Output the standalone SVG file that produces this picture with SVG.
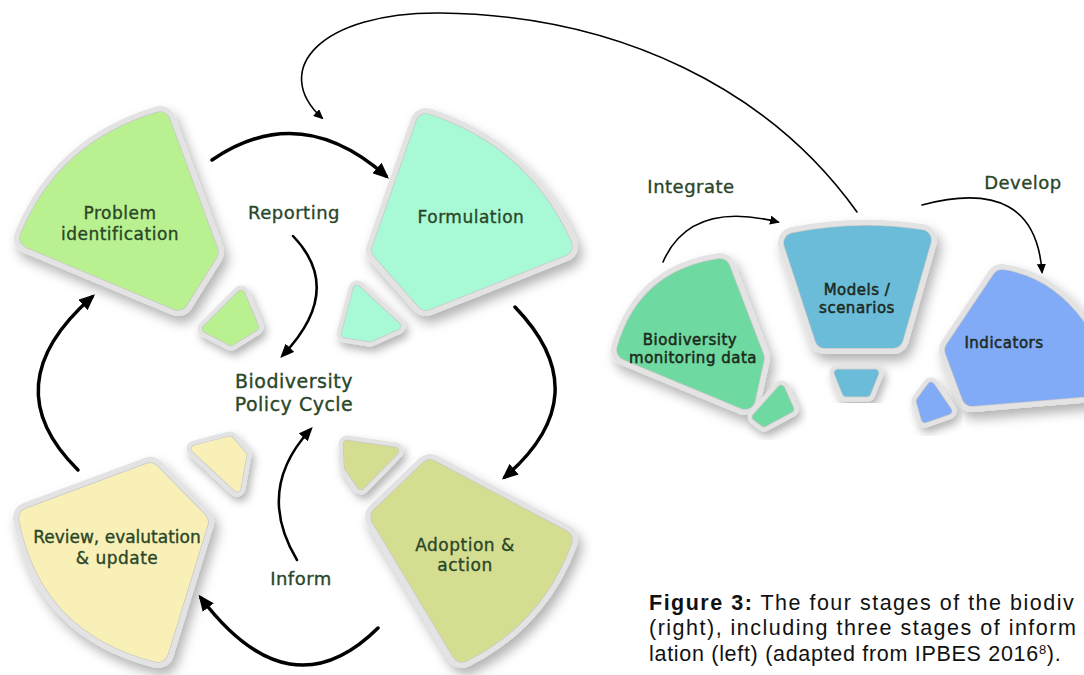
<svg xmlns="http://www.w3.org/2000/svg" width="1084" height="675" viewBox="0 0 1084 675">
<style>
.rim{fill:#e3e3e3;stroke:#e3e3e3;stroke-width:32;stroke-linejoin:round;filter:url(#sh)}
.edge{fill:#c8c8c8;stroke:#c8c8c8;stroke-width:21.5;stroke-linejoin:round}
.face{stroke-width:20;stroke-linejoin:round}
.rims{fill:#e3e3e3;stroke:#e3e3e3;stroke-width:17;stroke-linejoin:round;filter:url(#sh2)}
.edges{fill:#c8c8c8;stroke:#c8c8c8;stroke-width:8.5;stroke-linejoin:round}
.faces{stroke-width:7;stroke-linejoin:round}
.c-prob{fill:#b9f090;stroke:#b9f090}
.c-form{fill:#a7fad5;stroke:#a7fad5}
.c-rev{fill:#f9f0b7;stroke:#f9f0b7}
.c-adop{fill:#d5de90;stroke:#d5de90}
.c-bio{fill:#6ed9a0;stroke:#6ed9a0}
.c-mod{fill:#6bbcd9;stroke:#6bbcd9}
.c-ind{fill:#81aaf7;stroke:#81aaf7}
.lbl{font-family:"DejaVu Sans",sans-serif;fill:#2a4628;stroke:#2a4628;stroke-width:0.35;text-anchor:middle;letter-spacing:0.5px}
.nl{font-size:17px}
.el{font-size:18px}
.rl{font-size:15px;fill:#1c2a1c;stroke:#1c2a1c;stroke-width:0.5}
.thick{fill:none;stroke:#000;stroke-width:3.5;stroke-linecap:round;marker-end:url(#ah)}
.mid{fill:none;stroke:#000;stroke-width:2.5;stroke-linecap:round;marker-end:url(#am)}
.thin{fill:none;stroke:#000;stroke-width:1.6;stroke-linecap:round;marker-end:url(#as)}
.cap{font-family:"Liberation Sans",Arial,sans-serif;font-size:21.5px;letter-spacing:1.5px;fill:#111}
</style>
<defs>
<filter id="sh" x="-30%" y="-30%" width="170%" height="170%"><feDropShadow dx="4" dy="7" stdDeviation="6" flood-color="#000" flood-opacity="0.3"/></filter>
<filter id="sh2" x="-50%" y="-50%" width="200%" height="200%"><feDropShadow dx="3" dy="5" stdDeviation="4" flood-color="#000" flood-opacity="0.3"/></filter>
<marker id="ah" viewBox="0 0 16 14" refX="12" refY="7" markerWidth="16" markerHeight="14" markerUnits="userSpaceOnUse" orient="auto"><path d="M0,0 L16,7 L0,14 Z" fill="#000"/></marker>
<marker id="am" viewBox="0 0 14 12" refX="10" refY="6" markerWidth="14" markerHeight="12" markerUnits="userSpaceOnUse" orient="auto"><path d="M0,0 L14,6 L0,12 Z" fill="#000"/></marker>
<marker id="as" viewBox="0 0 10 9" refX="8" refY="4.5" markerWidth="10" markerHeight="9" markerUnits="userSpaceOnUse" orient="auto"><path d="M0,0 L10,4.5 L0,9 Z" fill="#000"/></marker>
<path id="s-prob" d="M 30 238 Q 66 150 160 122 L 208 252 L 178 300 Z"/>
<path id="s-prob2" d="M 206 329 L 241 294 L 255 327 L 231 342 Z"/>
<path id="s-form" d="M 426 124 Q 521 155 562 246 L 426 300 L 382 250 Z"/>
<path id="s-form2" d="M 357 289 L 397 326 L 370 338 L 345 334 Z"/>
<path id="s-rev" d="M 150 473 L 198 522 L 158 652 Q 50 625 29 518 Z"/>
<path id="s-rev2" d="M 195 449 L 230 440 L 243 455 L 237 488 Z"/>
<path id="s-adop" d="M 430 470 L 562 540 Q 534 616 462 652 L 381 517 Z"/>
<path id="s-adop2" d="M 347 444 L 395 451 L 361 486 L 348 467 Z"/>
<path id="s-bio" d="M 627 350 Q 647 280 720 269 L 754 358 L 745 399 Z"/>
<path id="s-bio2" d="M 756 417 L 781 389 L 790 409 L 764 423 Z"/>
<path id="s-mod" d="M 794 243 Q 857 230 921 240 L 893 338 L 825 338 Z"/>
<path id="s-mod2" d="M 838 373 L 875 373 L 867 393 L 846 393 Z"/>
<path id="s-ind" d="M 1002 280 Q 1070 290 1105 385 L 972 396 L 955 350 Z"/>
<path id="s-ind2" d="M 920 401 L 931 386 L 948 411 L 925 419 Z"/>
</defs>
<rect width="1084" height="675" fill="#fff"/>

<g id="node-problem">
<use href="#s-prob" class="rim"/><use href="#s-prob" class="edge"/><use href="#s-prob" class="face c-prob"/>
<use href="#s-prob2" class="rims"/><use href="#s-prob2" class="edges"/><use href="#s-prob2" class="faces c-prob"/>
<text class="lbl nl" x="120" y="219">Problem</text>
<text class="lbl nl" x="120" y="240">identification</text>
</g>
<g id="node-formulation">
<use href="#s-form" class="rim"/><use href="#s-form" class="edge"/><use href="#s-form" class="face c-form"/>
<use href="#s-form2" class="rims"/><use href="#s-form2" class="edges"/><use href="#s-form2" class="faces c-form"/>
<text class="lbl nl" x="471" y="223">Formulation</text>
</g>
<g id="node-review">
<use href="#s-rev" class="rim"/><use href="#s-rev" class="edge"/><use href="#s-rev" class="face c-rev"/>
<use href="#s-rev2" class="rims"/><use href="#s-rev2" class="edges"/><use href="#s-rev2" class="faces c-rev"/>
<text class="lbl nl" x="117" y="543" style="letter-spacing:0px">Review, evalutation</text>
<text class="lbl nl" x="117" y="564">&amp; update</text>
</g>
<g id="node-adoption">
<use href="#s-adop" class="rim"/><use href="#s-adop" class="edge"/><use href="#s-adop" class="face c-adop"/>
<use href="#s-adop2" class="rims"/><use href="#s-adop2" class="edges"/><use href="#s-adop2" class="faces c-adop"/>
<text class="lbl nl" x="465" y="551">Adoption &amp;</text>
<text class="lbl nl" x="465" y="571">action</text>
</g>
<g id="node-monitoring">
<use href="#s-bio" class="rim"/><use href="#s-bio" class="edge"/><use href="#s-bio" class="face c-bio"/>
<use href="#s-bio2" class="rims"/><use href="#s-bio2" class="edges"/><use href="#s-bio2" class="faces c-bio"/>
<text class="lbl rl" x="690" y="345">Biodiversity</text>
<text class="lbl rl" x="693" y="363">monitoring data</text>
</g>
<g id="node-models">
<use href="#s-mod" class="rim"/><use href="#s-mod" class="edge"/><use href="#s-mod" class="face c-mod"/>
<use href="#s-mod2" class="rims"/><use href="#s-mod2" class="edges"/><use href="#s-mod2" class="faces c-mod"/>
<text class="lbl rl" x="857" y="295">Models /</text>
<text class="lbl rl" x="857" y="313">scenarios</text>
</g>
<g id="node-indicators">
<use href="#s-ind" class="rim"/><use href="#s-ind" class="edge"/><use href="#s-ind" class="face c-ind"/>
<use href="#s-ind2" class="rims"/><use href="#s-ind2" class="edges"/><use href="#s-ind2" class="faces c-ind"/>
<text class="lbl rl" x="1004" y="348">Indicators</text>
</g>

<g id="connectors">
<path class="thick" d="M 212 160 Q 300 100 386 176"/>
<path class="thick" d="M 515 307 Q 600 395 505 477"/>
<path class="thick" d="M 378 628 Q 290 715 201 598"/>
<path class="thick" d="M 78 470 Q -8 385 92 297"/>
<path class="mid" d="M 293 236 Q 345 290 283 355"/>
<path class="mid" d="M 297 560 Q 255 490 310 430"/>
<path class="thin" d="M 857 212 C 770 90 620 15 440 13 C 320 12 270 70 322 118"/>
<path class="thin" d="M 663 262 Q 690 200 778 222"/>
<path class="thin" d="M 922 205 Q 1035 175 1042 272"/>
</g>

<g id="labels">
<text class="lbl el" x="294" y="219">Reporting</text>
<text class="lbl" style="font-size:19px" x="294" y="388">Biodiversity</text>
<text class="lbl" style="font-size:19px" x="294" y="411">Policy Cycle</text>
<text class="lbl el" x="301" y="585">Inform</text>
<text class="lbl el" x="691" y="193">Integrate</text>
<text class="lbl el" x="1023" y="189">Develop</text>
</g>

<g id="caption">
<text class="cap" x="649" y="610"><tspan font-weight="bold">Figure 3:</tspan> The four stages of the biodiv</text>
<text class="cap" x="649" y="635">(right), including three stages of inform</text>
<text class="cap" x="649" y="661" style="letter-spacing:0.7px">lation (left) (adapted from IPBES 2016<tspan font-size="13" dy="-7">8</tspan><tspan dy="7">).</tspan></text>
</g>
</svg>
